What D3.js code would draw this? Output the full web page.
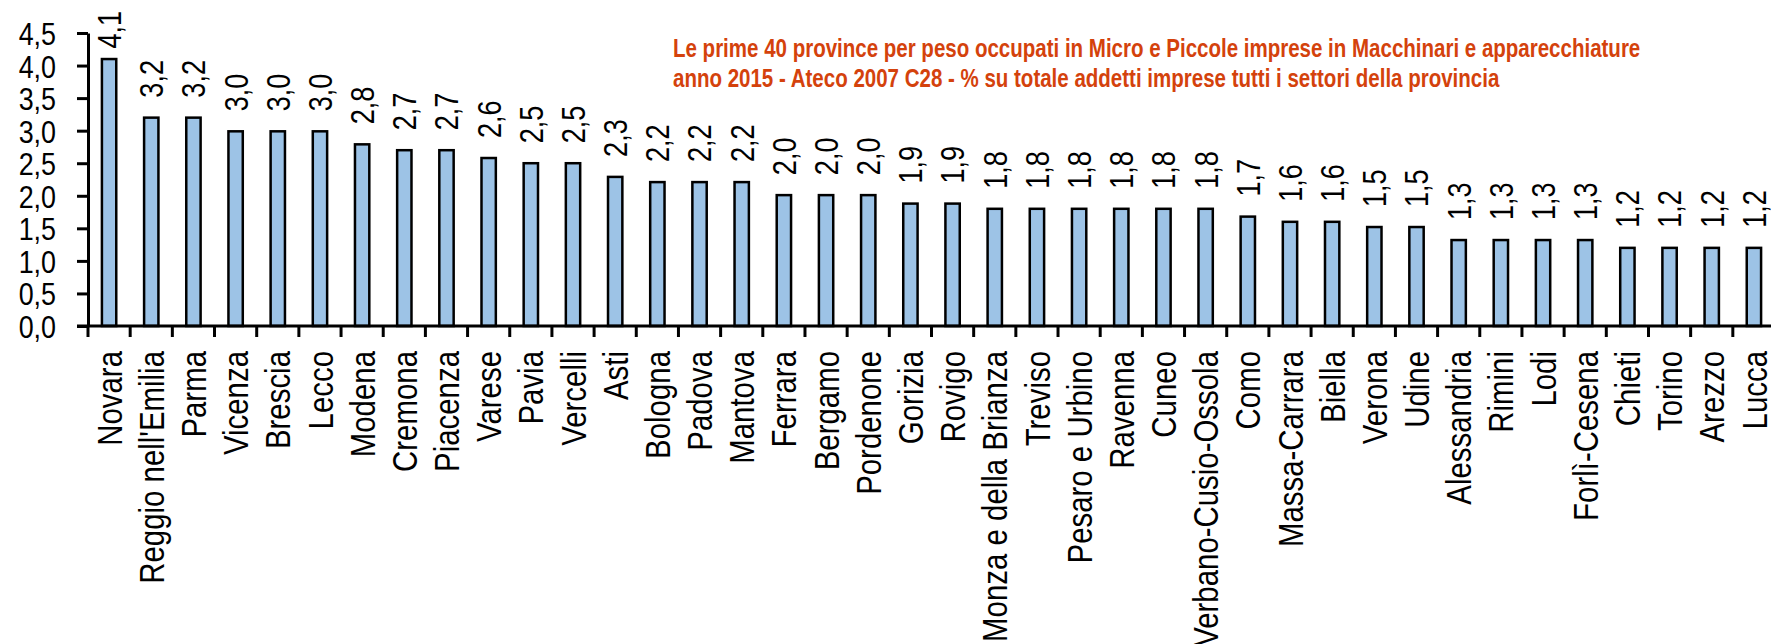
<!DOCTYPE html>
<html>
<head>
<meta charset="utf-8">
<script src="https://cdn.jsdelivr.net/npm/d3@7"></script>
<style>
  body { margin: 0; background: #fff; }
  svg { display: block; }
  text { font-family: "Liberation Sans Narrow", "Arial Narrow", "Liberation Sans", Arial, sans-serif; }
</style>
</head>
<body>
<div id="okvir"></div>
<script>
const province = ["Novara", "Reggio nell'Emilia", "Parma", "Vicenza", "Brescia", "Lecco", "Modena", "Cremona", "Piacenza", "Varese",
  "Pavia", "Vercelli", "Asti", "Bologna", "Padova", "Mantova", "Ferrara", "Bergamo", "Pordenone", "Gorizia",
  "Rovigo", "Monza e della Brianza", "Treviso", "Pesaro e Urbino", "Ravenna", "Cuneo", "Verbano-Cusio-Ossola", "Como", "Massa-Carrara", "Biella",
  "Verona", "Udine", "Alessandria", "Rimini", "Lodi", "Forlì-Cesena", "Chieti", "Torino", "Arezzo", "Lucca"]

const valori = [4.10, 3.20, 3.20, 2.99, 2.99, 2.99, 2.79, 2.70, 2.70, 2.58,
  2.50, 2.50, 2.29, 2.21, 2.21, 2.21, 2.01, 2.01, 2.01, 1.88,
  1.88, 1.80, 1.80, 1.80, 1.80, 1.80, 1.80, 1.68, 1.60, 1.60,
  1.52, 1.52, 1.32, 1.32, 1.32, 1.32, 1.20, 1.20, 1.20, 1.20]

const yTicks = [0, 0.5, 1, 1.5, 2, 2.5, 3, 3.5, 4, 4.5]

const naslov = [
  "Le prime 40 province per peso occupati in Micro e Piccole imprese in Macchinari e apparecchiature",
  "anno 2015 - Ateco 2007 C28 - % su totale addetti imprese tutti i settori della provincia"
]

const dataset = province.map((p, i) => ({ provincia: p, valore: valori[i] }))

const dimenzije = {
  sirina: 1771,
  visina: 644,
  lijevo: 88,
  desno: 1775,
  vrh: 33,
  dno: 326,
}

// stisni tekst da lici na Arial Narrow
function stisni(sel, faktor) {
  sel.each(function () {
    const duljina = this.getComputedTextLength()
    d3.select(this)
      .attr("textLength", duljina * faktor)
      .attr("lengthAdjust", "spacingAndGlyphs")
  })
}

const it = d3.formatLocale({ decimal: ",", thousands: ".", grouping: [3], currency: ["€", ""] })
const fmt = it.format(".1f")

const okvir = d3.select("#okvir")
  .append("svg")
  .attr("width", dimenzije.sirina)
  .attr("height", dimenzije.visina)

const xSkala = d3.scaleBand()
  .domain(province)
  .range([dimenzije.lijevo, dimenzije.desno])
  .paddingInner(0.66)
  .paddingOuter(0.33)

const ySkala = d3.scaleLinear()
  .domain([0, 4.5])
  .range([dimenzije.dno, dimenzije.vrh])

// stupci
okvir.append("g")
  .selectAll("rect")
  .data(dataset)
  .join("rect")
  .attr("x", d => xSkala(d.provincia))
  .attr("y", d => ySkala(d.valore))
  .attr("width", xSkala.bandwidth())
  .attr("height", d => ySkala(0) - ySkala(d.valore))
  .attr("fill", "#9dc3e6")
  .attr("stroke", "#000")
  .attr("stroke-width", 2.5)

// y os
const yOs = okvir.append("g")
  .attr("transform", `translate(${dimenzije.lijevo},0)`)
  .call(d3.axisLeft(ySkala).tickValues(yTicks).tickSize(11).tickSizeOuter(0).tickPadding(21).tickFormat(fmt))
yOs.select(".domain").attr("stroke", "#000").attr("stroke-width", 3)
yOs.selectAll(".tick line").attr("stroke", "#000").attr("stroke-width", 3)
yOs.selectAll(".tick text")
  .attr("fill", "#000")
  .style("font-size", "32px")
  .attr("dy", "0.36em")
  .call(stisni, 0.84)

// x os - crta i oznake izmedu kategorija
const korak = xSkala.step()
const granice = d3.range(province.length + 1).map(i => dimenzije.lijevo + i * korak)
const xOs = okvir.append("g")
xOs.append("line")
  .attr("x1", dimenzije.lijevo - 11)
  .attr("x2", dimenzije.sirina)
  .attr("y1", ySkala(0))
  .attr("y2", ySkala(0))
  .attr("stroke", "#000")
  .attr("stroke-width", 3)
xOs.selectAll(".crtica")
  .data(granice)
  .join("line")
  .attr("class", "crtica")
  .attr("x1", d => d)
  .attr("x2", d => d)
  .attr("y1", ySkala(0))
  .attr("y2", ySkala(0) + 11)
  .attr("stroke", "#000")
  .attr("stroke-width", 3)

// nazivi provincija
xOs.selectAll(".naziv")
  .data(dataset)
  .join("text")
  .attr("class", "naziv")
  .attr("transform", d => `translate(${xSkala(d.provincia) + xSkala.bandwidth() / 2},${ySkala(0) + 25}) rotate(-90)`)
  .attr("dy", "0.36em")
  .attr("text-anchor", "end")
  .style("font-size", "35px")
  .attr("fill", "#000")
  .text(d => d.provincia)
  .call(stisni, 0.84)

// vrijednosti iznad stupaca
const oznake = okvir.append("g")
  .selectAll("text")
  .data(dataset)
  .join("text")
  .style("font-size", "33px")
  .attr("fill", "#000")
  .attr("dy", "0.36em")
  .text(d => fmt(d.valore))
  .call(stisni, 0.82)

oznake.attr("transform", function (d) {
  const duljina = +this.getAttribute("textLength")
  const y = Math.max(ySkala(d.valore) - 20, duljina + 11)
  return `translate(${xSkala(d.provincia) + xSkala.bandwidth() / 2},${y}) rotate(-90)`
})

// naslov
okvir.append("g")
  .selectAll("text")
  .data(naslov)
  .join("text")
  .attr("x", 673)
  .attr("y", (d, i) => 57 + i * 29.5)
  .attr("fill", "#d4420c")
  .style("font-size", "25px")
  .style("font-weight", "bold")
  .text(d => d)
  .call(stisni, 0.82)
</script>
</body>
</html>
